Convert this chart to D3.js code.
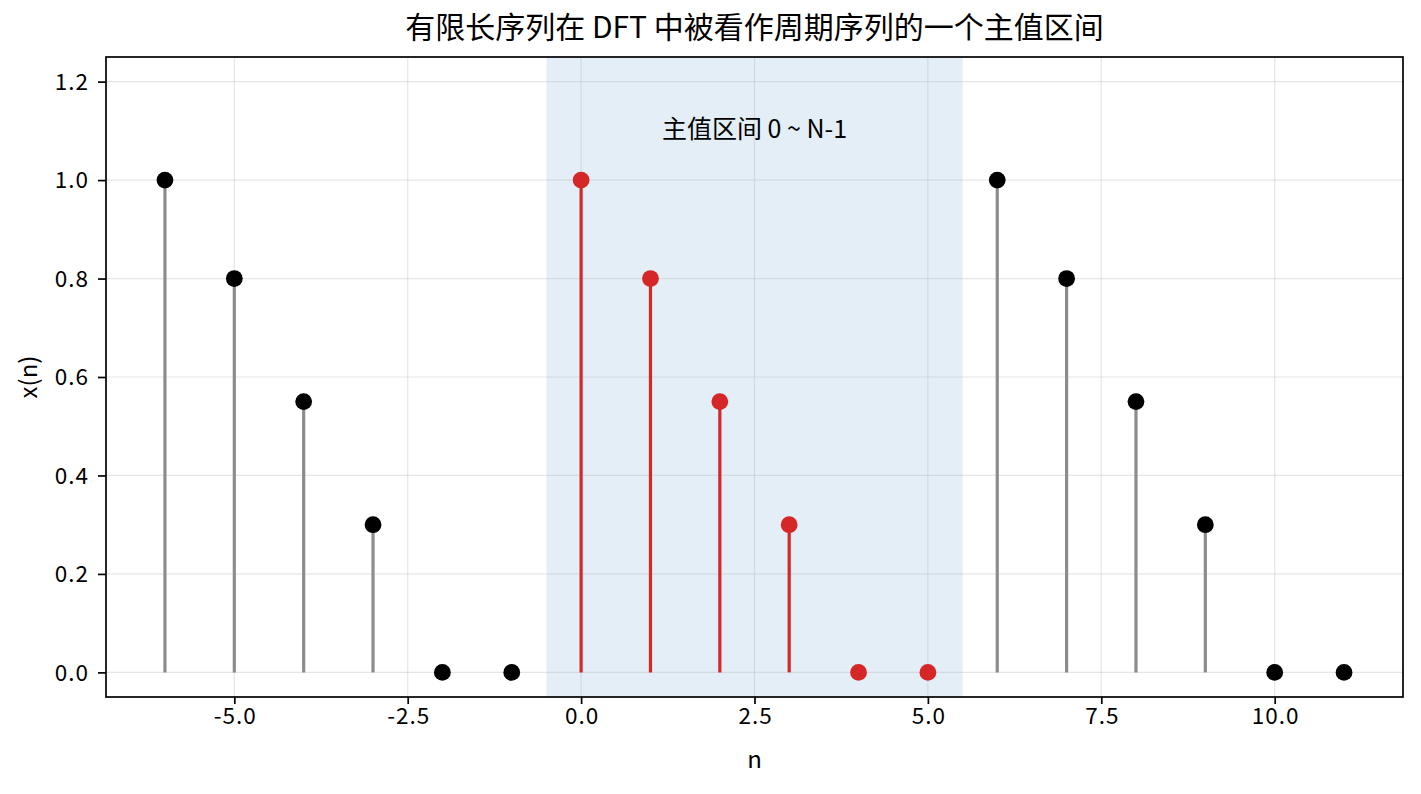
<!DOCTYPE html>
<html>
<head>
<meta charset="utf-8">
<script src="https://cdn.jsdelivr.net/npm/d3@7"></script>
<style>
  body { margin: 0; background: #fff; }
  text { font-family: "Noto Sans CJK SC", "Noto Sans", sans-serif; }
</style>
</head>
<body>
<div id="chart"></div>
<script>
// periodic copies (black) and main period (red)
const nLeft = [-6, -5, -4, -3, -2, -1];
const xLeft = [1.0, 0.8, 0.55, 0.3, 0.0, 0.0];
const nMain = [0, 1, 2, 3, 4, 5];
const xMain = [1.0, 0.8, 0.55, 0.3, 0.0, 0.0];
const nRight = [6, 7, 8, 9, 10, 11];
const xRight = [1.0, 0.8, 0.55, 0.3, 0.0, 0.0];
const xTicks = [-5.0, -2.5, 0.0, 2.5, 5.0, 7.5, 10.0];
const yTicks = [0.0, 0.2, 0.4, 0.6, 0.8, 1.0, 1.2];
const spanRange = [-0.5, 5.5];

const W = 1421, H = 794;
const margin = {left: 106, right: 18, top: 57, bottom: 97};

const svg = d3.select("#chart").append("svg")
    .attr("width", W).attr("height", H);

const x = d3.scaleLinear().domain([-6.85, 11.85]).range([margin.left, W - margin.right]);
const y = d3.scaleLinear().domain([-0.05, 1.25]).range([H - margin.bottom, margin.top]);

// shaded main interval
svg.append("rect")
    .attr("x", x(spanRange[0]))
    .attr("y", margin.top)
    .attr("width", x(spanRange[1]) - x(spanRange[0]))
    .attr("height", y(-0.05) - margin.top)
    .attr("fill", "#1f77b4")
    .attr("opacity", 0.12);

// grid
const grid = svg.append("g");
xTicks.forEach(t => {
    grid.append("line").attr("x1", x(t)).attr("x2", x(t))
        .attr("y1", margin.top).attr("y2", H - margin.bottom)
        .attr("stroke", "#b0b0b0").attr("stroke-width", 1.2).attr("opacity", 0.3);
});
yTicks.forEach(t => {
    grid.append("line").attr("x1", margin.left).attr("x2", W - margin.right)
        .attr("y1", y(t)).attr("y2", y(t))
        .attr("stroke", "#b0b0b0").attr("stroke-width", 1.2).attr("opacity", 0.3);
});

function drawStems(ns, vals, stemColor, dotColor) {
    const data = ns.map((n, i) => ({n: n, v: vals[i]}));
    svg.append("g").selectAll("line").data(data).enter().append("line")
        .attr("x1", d => x(d.n)).attr("x2", d => x(d.n))
        .attr("y1", y(0)).attr("y2", d => y(d.v))
        .attr("stroke", stemColor).attr("stroke-width", 3.2);
    svg.append("g").selectAll("circle").data(data).enter().append("circle")
        .attr("cx", d => x(d.n)).attr("cy", d => y(d.v))
        .attr("r", 8.4).attr("fill", dotColor);
}

drawStems(nLeft, xLeft, "#8c8c8c", "#000");
drawStems(nRight, xRight, "#8c8c8c", "#000");
drawStems(nMain, xMain, "#d62728", "#d62728");

// axes
const xAxis = svg.append("g")
    .attr("transform", "translate(0," + (H - margin.bottom) + ")")
    .call(d3.axisBottom(x).tickValues(xTicks).tickFormat(d3.format(".1f")).tickSize(7).tickPadding(4));
const yAxis = svg.append("g")
    .attr("transform", "translate(" + margin.left + ",0)")
    .call(d3.axisLeft(y).tickValues(yTicks).tickFormat(d3.format(".1f")).tickSize(8).tickPadding(9));
[xAxis, yAxis].forEach(a => {
    a.select(".domain").remove();
    a.selectAll(".tick line").attr("stroke", "#000").attr("stroke-width", 1.7);
    a.selectAll(".tick text").style("font-size", "22.5px").attr("fill", "#000")
        .style("letter-spacing", "1px")
        .style("font-family", "'Noto Sans CJK SC', 'Noto Sans', sans-serif");
});
xAxis.selectAll(".tick text").text(d => d.toFixed(1)).attr("dx", "0.5px");
yAxis.selectAll(".tick text").attr("dy", "0.35em");

// frame
svg.append("rect")
    .attr("x", margin.left).attr("y", margin.top)
    .attr("width", W - margin.left - margin.right)
    .attr("height", H - margin.top - margin.bottom)
    .attr("fill", "none").attr("stroke", "#000").attr("stroke-width", 1.7);

// annotation
svg.append("text")
    .attr("x", x(2.5)).attr("y", y(1.1))
    .attr("text-anchor", "middle").attr("dominant-baseline", "middle")
    .style("font-size", "25px").text("主值区间 0 ~ N-1");

// title & labels
svg.append("text").attr("x", (margin.left + W - margin.right) / 2).attr("y", 30)
    .attr("text-anchor", "middle").attr("dominant-baseline", "middle")
    .style("font-size", "30px").text("有限长序列在 DFT 中被看作周期序列的一个主值区间");
svg.append("text").attr("x", (margin.left + W - margin.right) / 2).attr("y", 761)
    .attr("text-anchor", "middle").attr("dominant-baseline", "middle")
    .style("font-size", "24px").text("n");
svg.append("text")
    .attr("transform", "translate(30," + ((margin.top + H - margin.bottom) / 2) + ") rotate(-90)")
    .attr("text-anchor", "middle").attr("dominant-baseline", "middle")
    .style("font-size", "24px").text("x(n)");
</script>
</body>
</html>
